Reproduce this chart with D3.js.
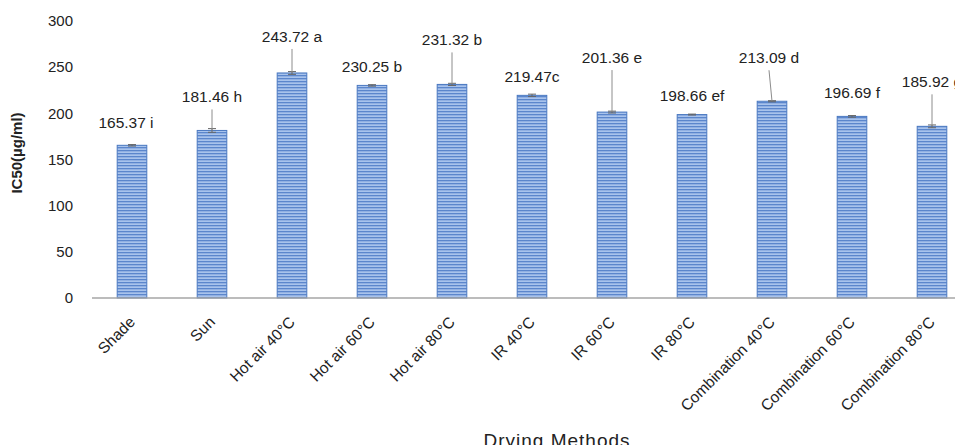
<!DOCTYPE html>
<html>
<head>
<meta charset="utf-8">
<script src="https://cdn.jsdelivr.net/npm/d3@7"></script>
<style>
  html, body { margin: 0; padding: 0; background: #fff; }
  svg { display: block; font-family: "Liberation Sans", Arial, sans-serif; }
</style>
</head>
<body>
<svg id="chart" width="955" height="445"></svg>
<script>
// Drying methods and their IC50 values (µg/ml)
const methods = ["Shade", "Sun", "Hot air 40°C", "Hot air 60°C", "Hot air 80°C",
  "IR 40°C", "IR 60°C", "IR 80°C", "Combination 40°C", "Combination 60°C", "Combination 80°C"];
const ic50 = [165.37, 181.46, 243.72, 230.25, 231.32, 219.47, 201.36, 198.66, 213.09, 196.69, 185.92];
const errors = [0.8, 2.0, 1.5, 0.8, 1.2, 1.3, 1.0, 0.5, 0.6, 0.9, 1.5];
const groups = [" i", " h", " a", " b", " b", "c", " e", " ef", " d", " f", " g"];
const yTicks = [0, 50, 100, 150, 200, 250, 300];

// Label placement: lift above bar top (px) and horizontal nudge (px)
const labelLift = [17, 28, 31, 13, 39, 13, 49, 14, 38, 18, 39];
const labelNudge = [-6, 0, 0, 0, 0, 0, 0, 0, -3, 0, 0];

const svg = d3.select("#chart");
const x0 = 92, yZero = 298, yTop = 21;

const x = d3.scaleBand().domain(methods).range([x0, x0 + 80 * methods.length]).paddingInner(0.63).paddingOuter(0.315);
const y = d3.scaleLinear().domain([0, 300]).range([yZero, yTop]);

// Horizontal-line fill for the bars
const defs = svg.append("defs");
const pat = defs.append("pattern").attr("id", "hlines")
  .attr("patternUnits", "userSpaceOnUse").attr("width", 6).attr("height", 3);
pat.append("rect").attr("width", 6).attr("height", 3).attr("fill", "#a8c3ec");
pat.append("rect").attr("width", 6).attr("height", 1.3).attr("fill", "#5b86cc");

// Y tick labels
svg.append("g").selectAll("text").data(yTicks).join("text")
  .attr("x", 73).attr("y", d => y(d)).attr("dy", "0.35em")
  .attr("text-anchor", "end").attr("font-size", 15).attr("fill", "#222")
  .text(d => d);

// Y axis title
svg.append("text")
  .attr("transform", "translate(22,153) rotate(-90)")
  .attr("text-anchor", "middle").attr("font-size", 15).attr("font-weight", "bold").attr("fill", "#222")
  .text("IC50(µg/ml)");

// Bars
svg.append("g").selectAll("rect").data(methods).join("rect")
  .attr("x", d => x(d)).attr("width", x.bandwidth())
  .attr("y", (d, i) => y(ic50[i])).attr("height", (d, i) => yZero - y(ic50[i]))
  .attr("fill", "url(#hlines)").attr("stroke", "#4a78c0").attr("stroke-width", 1);

// Baseline
svg.append("line").attr("x1", x0).attr("x2", 955).attr("y1", yZero).attr("y2", yZero)
  .attr("stroke", "#a6a6a6").attr("stroke-width", 1.5);

// Error bars
const eb = svg.append("g").attr("stroke", "#666").attr("stroke-width", 1);
methods.forEach((m, i) => {
  const cx = x(m) + x.bandwidth() / 2;
  const lo = y(ic50[i] - errors[i]), hi = y(ic50[i] + errors[i]);
  eb.append("line").attr("x1", cx).attr("x2", cx).attr("y1", lo).attr("y2", hi);
  eb.append("line").attr("x1", cx - 4).attr("x2", cx + 4).attr("y1", hi).attr("y2", hi);
  eb.append("line").attr("x1", cx - 4).attr("x2", cx + 4).attr("y1", lo).attr("y2", lo);
});

// Data labels with leader lines for the raised ones
const lab = svg.append("g");
methods.forEach((m, i) => {
  const cx = x(m) + x.bandwidth() / 2;
  const top = y(ic50[i]);
  const tx = cx + labelNudge[i];
  const ty = top - labelLift[i];
  lab.append("text").attr("x", tx).attr("y", ty)
    .attr("text-anchor", "middle").attr("font-size", 15.5).attr("fill", "#222")
    .text(ic50[i].toFixed(2) + groups[i]);
  if (labelLift[i] > 25) {
    lab.append("line").attr("x1", tx).attr("y1", ty + 7).attr("x2", cx).attr("y2", top)
      .attr("stroke", "#8c8c8c").attr("stroke-width", 1);
  }
});

// Category labels
svg.append("g").selectAll("text").data(methods).join("text")
  .attr("transform", d => `translate(${x(d) + x.bandwidth() / 2 + 4},${yZero + 25}) rotate(-45)`)
  .attr("text-anchor", "end").attr("font-size", 15.5).attr("fill", "#222")
  .text(d => d);

// X axis title
svg.append("text").attr("x", 557).attr("y", 447)
  .attr("text-anchor", "middle").attr("font-size", 19).attr("letter-spacing", 1).attr("fill", "#222")
  .text("Drying Methods");
</script>
</body>
</html>
